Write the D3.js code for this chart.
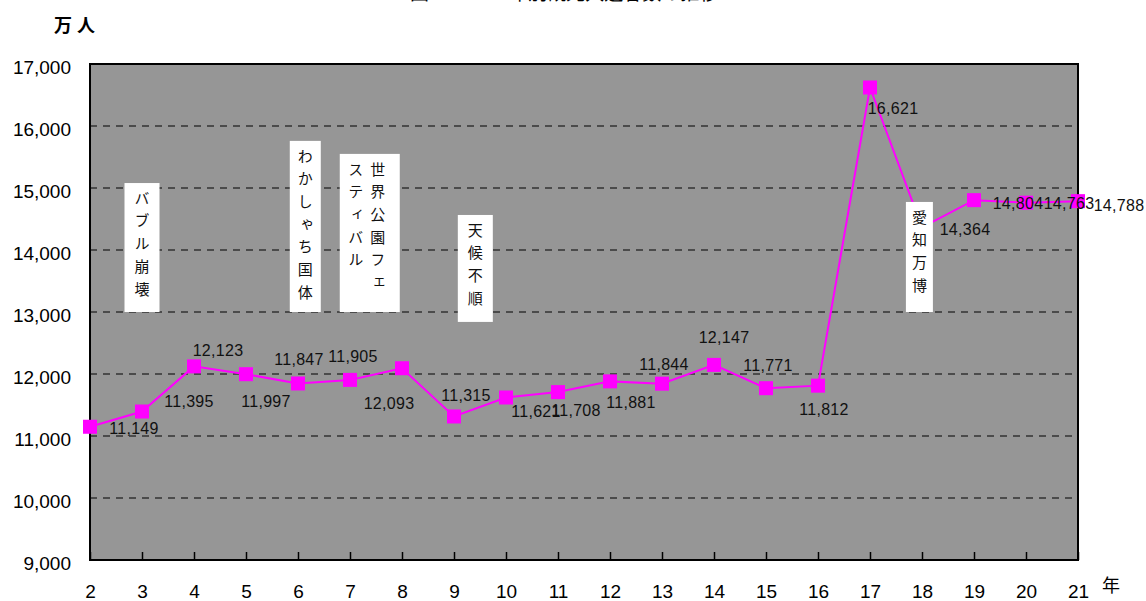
<!DOCTYPE html>
<html>
<head>
<meta charset="utf-8">
<script src="https://cdn.jsdelivr.net/npm/d3@7"></script>
<style>
  body { margin: 0; background: #fff; }
  svg { display: block; }
</style>
</head>
<body>
<svg id="chart" width="1146" height="601"></svg>
<script>
// ---------- DATA ----------
const years = [2, 3, 4, 5, 6, 7, 8, 9, 10, 11, 12, 13, 14, 15, 16, 17, 18, 19, 20, 21];
const visitors = [11149, 11395, 12123, 11997, 11847, 11905, 12093, 11315, 11621, 11708,
  11881, 11844, 12147, 11771, 11812, 16621, 14364, 14804, 14763, 14788];
const yTicks = [9000, 10000, 11000, 12000, 13000, 14000, 15000, 16000, 17000];
const gridValues = [10000, 11000, 12000, 13000, 14000, 15000, 16000];

// event notes: text columns (right to left), centre year, top/bottom value
const notes = [
  { cols: ['バブル崩壊'], year: 3, top: 15080, bottom: 13000 },
  { cols: ['わかしゃち国体'], year: 6.14, top: 15760, bottom: 13000 },
  { cols: ['世界公園フェ', 'スティバル'], year: 7.38, top: 15550, bottom: 13000 },
  { cols: ['天候不順'], year: 9.41, top: 14565, bottom: 12840 },
  { cols: ['愛知万博'], year: 17.95, top: 14775, bottom: 13000 },
];

// ---------- LAYOUT ----------
const noteWidths = [35, 31, 60, 35, 27];
const noteShift = [0, 0, -3, 0, 0];
// data label placement relative to each marker [dx, dy]
const labelOffsets = [
  [44, 2], [47, -10], [24, -16], [20, 27], [1, -24], [3, -23], [-13, 35],
  [12, -21], [30, 14], [18, 18], [21, 21], [2, -19], [10, -27], [2, -23],
  [6, 24], [23, 21], [43, 2], [44, 3], [43, 1], [41, 4],
];

const numFont = '"Liberation Sans", Arial, sans-serif';
const jpFont = '"Noto Sans CJK JP", sans-serif';
const magenta = '#ff00ff';

const svg = d3.select('#chart');

const x = d3.scaleLinear().domain([2, 21]).range([90, 1078]);
const y = d3.scaleLinear().domain([9000, 17000]).range([560, 64]);

// ----------- TITLE (cut off at the top) ------------
svg.append('text')
  .attr('x', 410)
  .attr('y', 0)
  .style('font-family', jpFont)
  .style('font-size', '19px')
  .attr('fill', '#000')
  .text('図２　　　 年別観光入込客数の推移');

// ---------- PLOT AREA -----------
svg.append('rect')
  .attr('x', x(2))
  .attr('y', y(17000))
  .attr('width', x(21) - x(2))
  .attr('height', y(9000) - y(17000))
  .attr('fill', '#969696');

svg.append('g')
  .selectAll('line')
  .data(gridValues)
  .enter()
  .append('line')
  .attr('x1', x(2))
  .attr('x2', x(21))
  .attr('y1', (d) => y(d))
  .attr('y2', (d) => y(d))
  .attr('stroke', '#000')
  .attr('stroke-width', 1)
  .attr('stroke-dasharray', '7,6');

svg.append('rect')
  .attr('x', x(2))
  .attr('y', y(17000))
  .attr('width', x(21) - x(2))
  .attr('height', y(9000) - y(17000))
  .attr('fill', 'none')
  .attr('stroke', '#000')
  .attr('stroke-width', 2);

// ---------- AXES -----------
const xAxis = svg.append('g')
  .attr('transform', `translate(0, ${y(9000)})`)
  .call(d3.axisBottom(x).tickValues(years).tickFormat(d3.format('d'))
    .tickSizeInner(-8).tickSizeOuter(0).tickPadding(25));
xAxis.select('.domain').remove();
xAxis.selectAll('line').attr('stroke', '#000').attr('stroke-width', 1.5);
xAxis.selectAll('text')
  .style('font-family', numFont)
  .style('font-size', '19px')
  .attr('fill', '#000');

const yAxis = svg.append('g')
  .attr('transform', `translate(${x(2)}, 0)`)
  .call(d3.axisLeft(y).tickValues(yTicks).tickFormat(d3.format(','))
    .tickSize(0).tickPadding(19));
yAxis.select('.domain').remove();
yAxis.selectAll('text')
  .attr('dy', '0.48em')
  .style('font-family', numFont)
  .style('font-size', '19px')
  .attr('fill', '#000');

svg.append('text')
  .attr('x', 77)
  .attr('y', 32)
  .attr('text-anchor', 'middle')
  .style('font-family', jpFont)
  .style('font-size', '18px')
  .style('font-weight', 'bold')
  .style('letter-spacing', '5px')
  .text('万人');

svg.append('text')
  .attr('x', 1102)
  .attr('y', 592)
  .style('font-family', jpFont)
  .style('font-size', '18px')
  .text('年');

// ---------- LINE + MARKERS -----------
const points = years.map((yr, i) => ({ year: yr, value: visitors[i], off: labelOffsets[i] }));

const line = d3.line()
  .x((d) => x(d.year))
  .y((d) => y(d.value));

svg.append('path')
  .datum(points)
  .attr('d', line)
  .attr('fill', 'none')
  .attr('stroke', magenta)
  .attr('stroke-width', 2);

svg.append('g')
  .selectAll('rect')
  .data(points)
  .enter()
  .append('rect')
  .attr('x', (d) => x(d.year) - 7)
  .attr('y', (d) => y(d.value) - 7)
  .attr('width', 14)
  .attr('height', 14)
  .attr('fill', magenta);

// ---------- NOTES -----------
const noteG = svg.append('g')
  .selectAll('g')
  .data(notes)
  .enter()
  .append('g');

noteG.append('rect')
  .attr('x', (d, i) => x(d.year) - noteWidths[i] / 2)
  .attr('y', (d) => y(d.top))
  .attr('width', (d, i) => noteWidths[i])
  .attr('height', (d) => y(d.bottom) - y(d.top))
  .attr('fill', '#fff');

noteG.each(function (d, i) {
  const g = d3.select(this);
  const n = d.cols.length;
  d.cols.forEach((col, j) => {
    const cx = x(d.year) + noteShift[i] + ((n - 1) / 2 - j) * 22;
    g.append('text')
      .attr('x', cx)
      .attr('y', y(d.top) + 7.5)
      .style('writing-mode', 'vertical-rl')
      .style('font-family', jpFont)
      .style('font-size', '15px')
      .style('letter-spacing', '7.7px')
      .attr('fill', '#111')
      .text(col);
  });
});

// ---------- DATA LABELS -----------
svg.append('g')
  .selectAll('text')
  .data(points)
  .enter()
  .append('text')
  .attr('x', (d) => x(d.year) + d.off[0])
  .attr('y', (d) => y(d.value) + d.off[1])
  .attr('text-anchor', 'middle')
  .attr('dominant-baseline', 'central')
  .style('font-family', numFont)
  .style('font-size', '16px')
  .style('letter-spacing', '0.3px')
  .attr('fill', '#111')
  .text((d) => d3.format(',')(d.value));
</script>
</body>
</html>
